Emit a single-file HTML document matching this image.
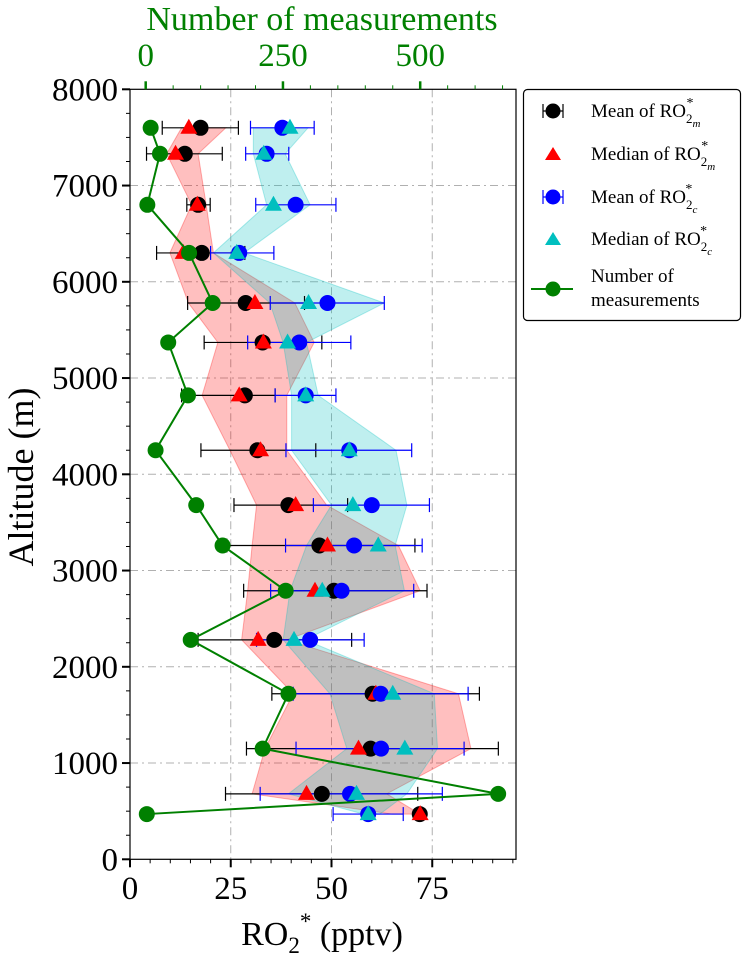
<!DOCTYPE html>
<html><head><meta charset="utf-8"><style>
html,body{margin:0;padding:0;background:#fff;}
svg{display:block;font-family:"Liberation Serif","Times New Roman",serif;}
</style></head><body>
<svg id="chart" width="749" height="961" viewBox="0 0 749 961" xmlns="http://www.w3.org/2000/svg">
<g id="grid"></g>
<g id="bands"></g>
<g id="marks"></g>
<g id="axes"></g>
<text x="322" y="30" font-size="34" fill="#008000" text-anchor="middle">Number of measurements</text>
<text transform="translate(33,477) rotate(-90)" font-size="36" text-anchor="middle">Altitude (m)</text>
<text x="322" y="945" font-size="34" text-anchor="middle">RO<tspan dy="8" font-size="23">2</tspan><tspan dy="-24" font-size="23">*</tspan><tspan dy="16"> (pptv)</tspan></text>
<g>
<rect x="523.5" y="89.5" width="217" height="231" rx="4" fill="#fff" stroke="#000" stroke-width="1.2"/>
<g>
<line x1="543" y1="111" x2="563" y2="111" stroke="#000" stroke-width="1.2"/><line x1="543" y1="104" x2="543" y2="118" stroke="#000" stroke-width="1.2"/><line x1="563" y1="104" x2="563" y2="118" stroke="#000" stroke-width="1.2"/><circle cx="553" cy="111" r="7.5" fill="#000"/>
<text x="591" y="117" font-size="19">Mean of RO<tspan dy="6" font-size="13">2</tspan><tspan dy="4" font-size="11" font-style="italic">m</tspan><tspan dx="-14" dy="-20" font-size="14">*</tspan></text></g>
<g>
<polygon points="553,147 561,160 545,160" fill="#f00"/>
<text x="591" y="160" font-size="19">Median of RO<tspan dy="6" font-size="13">2</tspan><tspan dy="4" font-size="11" font-style="italic">m</tspan><tspan dx="-14" dy="-20" font-size="14">*</tspan></text></g>
<g>
<line x1="543" y1="197" x2="563" y2="197" stroke="#00f" stroke-width="1.2"/><line x1="543" y1="190" x2="543" y2="204" stroke="#00f" stroke-width="1.2"/><line x1="563" y1="190" x2="563" y2="204" stroke="#00f" stroke-width="1.2"/><circle cx="553" cy="197" r="7.5" fill="#00f"/>
<text x="591" y="203" font-size="19">Mean of RO<tspan dy="6" font-size="13">2</tspan><tspan dy="4" font-size="11" font-style="italic">c</tspan><tspan dx="-12" dy="-20" font-size="14">*</tspan></text></g>
<g>
<polygon points="553,232 561,245 545,245" fill="#00bfbf"/>
<text x="591" y="245" font-size="19">Median of RO<tspan dy="6" font-size="13">2</tspan><tspan dy="4" font-size="11" font-style="italic">c</tspan><tspan dx="-12" dy="-20" font-size="14">*</tspan></text></g>
<g>
<line x1="531" y1="289" x2="573" y2="289" stroke="#008000" stroke-width="2"/><circle cx="553" cy="289" r="7.5" fill="#008000"/>
<text x="591" y="282" font-size="19">Number of</text><text x="591" y="306" font-size="19">measurements</text></g>
</g>
</svg>
<script>
const altitudes=[7600,7330,6800,6300,5780,5370,4820,4250,3680,3260,2790,2280,1720,1150,680,470];
const meanM=[17.5,13.6,16.9,17.8,28.7,32.9,28.5,31.6,39.3,47.0,50.6,35.8,60.2,59.7,47.6,71.9];
const meanMLow=[8.0,4.1,14.1,6.6,14.3,18.4,12.8,17.6,25.8,24.0,28.2,16.9,35.2,28.9,23.7,71.9];
const meanMHigh=[26.9,22.9,19.9,28.5,43.3,47.6,36.0,46.1,54.0,70.7,73.7,55.0,86.7,91.4,71.4,71.9];
const medianM=[14.6,11.3,16.7,13.2,31.0,33.1,27.1,32.4,41.1,49.0,45.9,31.8,61.0,56.7,43.8,72.0];
const meanC=[37.8,33.9,41.1,27.1,49.0,42.0,43.6,54.4,60.0,55.6,52.5,44.7,62.2,62.3,54.6,59.1];
const meanCLow=[29.9,28.7,31.2,20.0,34.8,29.2,36.0,38.7,45.5,38.6,34.9,31.4,40.5,41.2,32.3,50.4];
const meanCHigh=[45.7,39.4,51.1,35.7,63.1,54.8,51.1,69.9,74.3,72.5,70.4,58.1,83.9,82.9,77.5,67.8];
const medianC=[39.7,33.2,35.6,26.5,44.3,39.1,43.6,54.4,55.3,61.6,47.7,40.7,65.2,68.2,56.2,59.1];
const counts=[9,26,3,79,122,41,77,18,92,140,255,82,260,213,642,2];
const bandMLow=[12.8,9.1,15.3,9.9,14.5,21.8,17.9,24.8,31.4,30.3,29.2,27.7,40.5,33.5,30.3,65];
const bandMHigh=[23.8,16.9,18.9,20.7,40.9,45.7,38.9,38.9,48.8,66.6,72.0,38.9,81.5,84.6,63.7,72];
const bandCLow=[30.6,30.6,33.9,20.7,34.7,38.0,40.1,40.1,50.0,43.8,39.7,38.0,49.6,53.8,39.3,58];
const bandCHigh=[44.2,38.5,44.7,28.3,63.1,43.8,46.7,66.0,68.7,65.8,68.1,43.5,75.5,76.3,68.7,62];
const xTicks=[0,25,50,75];
const yTicks=[0,1000,2000,3000,4000,5000,6000,7000,8000];
const topTicks=[0,250,500];

const L=130,R=516,T=89.3,B=859.3;
const X=v=>L+v*4.03;
const Y=a=>B-a*0.09625;
const XT=n=>145.7+n*0.549;
const NS='http://www.w3.org/2000/svg';
function mk(tag,attrs,parent){const e=document.createElementNS(NS,tag);for(const k in attrs)e.setAttribute(k,attrs[k]);parent.appendChild(e);return e;}
const grid=document.getElementById('grid'),bands=document.getElementById('bands'),marks=document.getElementById('marks'),axes=document.getElementById('axes');

xTicks.slice(1).forEach(v=>{const l=mk('line',{x1:X(v),x2:X(v),y1:T,y2:B,stroke:'#b0b0b0','stroke-width':1,'stroke-dasharray':'8,4,2,4'},grid);

});
yTicks.slice(1,-1).forEach(a=>{const l=mk('line',{x1:L,x2:R,y1:Y(a),y2:Y(a),stroke:'#b0b0b0','stroke-width':1,'stroke-dasharray':'8,4,2,4'},grid);

});

function band(lo,hi,fill,stroke,name){
  const pts=altitudes.map((a,i)=>X(lo[i])+','+Y(a)).concat(altitudes.map((a,i)=>X(hi[i])+','+Y(a)).reverse());
  const p=mk('polygon',{points:pts.join(' '),fill:fill,stroke:stroke,'stroke-width':1},bands);
  
  
}
band(bandMLow,bandMHigh,'rgba(255,0,0,0.25)','rgba(255,0,0,0.3)','band-ro2-m');
band(bandCLow,bandCHigh,'rgba(0,191,191,0.25)','rgba(0,191,191,0.3)','band-ro2-c');

function errbar(lo,hi,col,name){
  altitudes.forEach((a,i)=>{const g=mk('g',{stroke:col,'stroke-width':1.2},marks);
    
    
    const y=Y(a);mk('line',{x1:X(lo[i]),x2:X(hi[i]),y1:y,y2:y},g);
    if(hi[i]-lo[i]>0.1){mk('line',{x1:X(lo[i]),x2:X(lo[i]),y1:y-7,y2:y+7},g);mk('line',{x1:X(hi[i]),x2:X(hi[i]),y1:y-7,y2:y+7},g);}
  });
}
function circles(vals,col,name,xf){vals.forEach((v,i)=>{const c=mk('circle',{cx:(xf||X)(v),cy:Y(altitudes[i]),r:8,fill:col},marks);
  
  });}
function tris(vals,col,name){vals.forEach((v,i)=>{const x=X(v),y=Y(altitudes[i]);const p=mk('polygon',{points:`${x},${y-9} ${x+8.5},${y+6} ${x-8.5},${y+6}`,fill:col},marks);
  
  });}
errbar(meanMLow,meanMHigh,'#000','error-bar-mean-m');
errbar(meanCLow,meanCHigh,'#00f','error-bar-mean-c');
circles(meanM,'#000','marker-mean-m');
tris(medianM,'#f00','marker-median-m');
circles(meanC,'#00f','marker-mean-c');
tris(medianC,'#00bfbf','marker-median-c');
const cl=mk('polyline',{points:altitudes.map((a,i)=>XT(counts[i])+','+Y(a)).join(' '),fill:'none',stroke:'#008000','stroke-width':2},marks);


circles(counts,'#008000','marker-count',XT);

const fr=mk('rect',{x:L,y:T,width:R-L,height:B-T,fill:'none',stroke:'#000','stroke-width':1.2},axes);


for(let v=0;v<=95;v+=5){const maj=v%25===0;mk('line',{x1:X(v),x2:X(v),y1:B,y2:B+(maj?8:4),stroke:'#000','stroke-width':maj?2:1},axes);}
xTicks.forEach(v=>{const t=mk('text',{x:X(v),y:899,'font-size':33,'text-anchor':'middle'},axes);t.textContent=v;
  
  });
for(let a=0;a<=8000;a+=250){const maj=a%1000===0;mk('line',{x1:L,x2:L-(maj?8:4),y1:Y(a),y2:Y(a),stroke:'#000','stroke-width':maj?2:1},axes);}
yTicks.forEach(a=>{const t=mk('text',{x:118,y:Y(a)+11,'font-size':33,'text-anchor':'end'},axes);t.textContent=a;
  
  });
for(let n=0;n<=650;n+=50){const maj=n%250===0;mk('line',{x1:XT(n),x2:XT(n),y1:T,y2:T-(maj?8:4),stroke:'#008000','stroke-width':maj?2.5:1},axes);}
topTicks.forEach(n=>{const t=mk('text',{x:XT(n),y:66,'font-size':33,'text-anchor':'middle',fill:'#008000'},axes);t.textContent=n;
  
  });
</script>
</body></html>
